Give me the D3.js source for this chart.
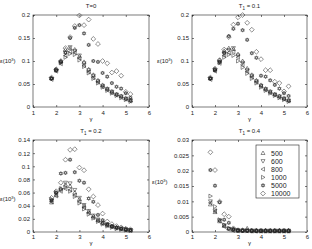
<!DOCTYPE html>
<html>
<head>
<meta charset="utf-8">
<script src="https://cdn.jsdelivr.net/npm/d3@7"></script>
<style>
  body { margin: 0; background: #fff; }
  svg { display: block; font-family: 'Liberation Sans', Arial, sans-serif; }
</style>
</head>
<body>
<svg id="chart" width="312" height="249"></svg>
<script>
// gamma values (x axis), shared by all panels
const gammas = [1.8, 2.0, 2.2, 2.4, 2.6, 2.8, 3.0, 3.2, 3.4, 3.6, 3.8, 4.0, 4.2, 4.4, 4.6, 4.8, 5.0, 5.2];
const seriesNames = ['500', '600', '800', '1000', '5000', '10000'];
const markerKinds = ['up', 'down', 'left', 'right', 'hex', 'diamond'];
const xTicks = [1, 2, 3, 4, 5, 6];

// T = 0
const t0_500   = [0.063, 0.082, 0.100, 0.125, 0.128, 0.125, 0.110, 0.098, 0.082, 0.070, 0.058, 0.048, 0.040, 0.034, 0.028, 0.024, 0.019, 0.015];
const t0_600   = [0.061, 0.079, 0.097, 0.118, 0.130, 0.122, 0.112, 0.095, 0.080, 0.068, 0.056, 0.046, 0.039, 0.033, 0.027, 0.023, 0.018, 0.014];
const t0_800   = [0.060, 0.078, 0.094, 0.112, 0.120, 0.118, 0.106, 0.090, 0.076, 0.064, 0.054, 0.044, 0.037, 0.031, 0.026, 0.021, 0.017, 0.013];
const t0_1000  = [0.062, 0.080, 0.096, 0.108, 0.116, 0.114, 0.102, 0.088, 0.074, 0.062, 0.052, 0.043, 0.036, 0.030, 0.025, 0.020, 0.016, 0.012];
const t0_5000  = [0.062, 0.080, 0.098, 0.118, 0.150, 0.172, 0.178, 0.160, 0.135, 0.100, 0.098, 0.074, 0.066, 0.052, 0.044, 0.040, 0.030, 0.020];
const t0_10000 = [0.064, 0.082, 0.100, 0.128, 0.152, 0.176, 0.199, 0.178, 0.190, 0.148, 0.137, 0.100, 0.095, 0.075, 0.078, 0.068, 0.033, 0.028];

// T1 = 0.1
const t1_500   = [0.063, 0.083, 0.102, 0.122, 0.128, 0.126, 0.115, 0.100, 0.084, 0.070, 0.058, 0.048, 0.040, 0.034, 0.028, 0.024, 0.019, 0.015];
const t1_600   = [0.061, 0.080, 0.098, 0.116, 0.124, 0.128, 0.112, 0.096, 0.080, 0.068, 0.056, 0.046, 0.039, 0.033, 0.027, 0.023, 0.018, 0.014];
const t1_800   = [0.060, 0.078, 0.095, 0.112, 0.118, 0.120, 0.108, 0.092, 0.077, 0.065, 0.054, 0.045, 0.037, 0.031, 0.026, 0.021, 0.017, 0.013];
const t1_1000  = [0.062, 0.081, 0.096, 0.108, 0.114, 0.112, 0.100, 0.086, 0.073, 0.062, 0.052, 0.043, 0.036, 0.030, 0.025, 0.020, 0.016, 0.012];
const t1_5000  = [0.062, 0.080, 0.098, 0.118, 0.154, 0.170, 0.181, 0.167, 0.146, 0.117, 0.107, 0.068, 0.066, 0.058, 0.048, 0.040, 0.030, 0.024];
const t1_10000 = [0.064, 0.083, 0.102, 0.125, 0.152, 0.179, 0.195, 0.200, 0.183, 0.168, 0.120, 0.104, 0.080, 0.080, 0.055, 0.052, 0.034, 0.045];

// T1 = 0.2
const t2_500   = [0.045, 0.056, 0.066, 0.072, 0.070, 0.060, 0.050, 0.040, 0.031, 0.024, 0.018, 0.014, 0.011, 0.009, 0.007, 0.005, 0.004, 0.003];
const t2_600   = [0.048, 0.058, 0.064, 0.075, 0.074, 0.064, 0.052, 0.041, 0.032, 0.025, 0.019, 0.014, 0.011, 0.008, 0.006, 0.005, 0.004, 0.003];
const t2_800   = [0.046, 0.055, 0.062, 0.066, 0.064, 0.056, 0.046, 0.037, 0.029, 0.022, 0.017, 0.013, 0.010, 0.008, 0.006, 0.005, 0.003, 0.002];
const t2_1000  = [0.050, 0.060, 0.066, 0.068, 0.062, 0.054, 0.044, 0.035, 0.027, 0.021, 0.016, 0.012, 0.009, 0.007, 0.005, 0.004, 0.003, 0.002];
const t2_5000  = [0.048, 0.060, 0.089, 0.090, 0.110, 0.091, 0.078, 0.075, 0.051, 0.046, 0.026, 0.018, 0.012, 0.009, 0.007, 0.005, 0.004, 0.003];
const t2_10000 = [0.052, 0.062, 0.075, 0.110, 0.125, 0.126, 0.098, 0.094, 0.065, 0.054, 0.041, 0.028, 0.016, 0.012, 0.009, 0.007, 0.005, 0.004];

// T1 = 0.4
const t4_500   = [0.0090, 0.0065, 0.0035, 0.0020, 0.0012, 0.0008, 0.0006, 0.0006, 0.0012, 0.0006, 0.0005, 0.0005, 0.0005, 0.0005, 0.0005, 0.0005, 0.0005, 0.0005];
const t4_600   = [0.0100, 0.0070, 0.0038, 0.0022, 0.0010, 0.0006, 0.0005, 0.0005, 0.0004, 0.0004, 0.0004, 0.0004, 0.0004, 0.0004, 0.0004, 0.0004, 0.0004, 0.0004];
const t4_800   = [0.0095, 0.0068, 0.0036, 0.0018, 0.0009, 0.0005, 0.0004, 0.0004, 0.0004, 0.0003, 0.0003, 0.0003, 0.0003, 0.0003, 0.0003, 0.0003, 0.0003, 0.0003];
const t4_1000  = [0.0117, 0.0083, 0.0040, 0.0023, 0.0012, 0.0007, 0.0005, 0.0004, 0.0004, 0.0004, 0.0004, 0.0003, 0.0003, 0.0003, 0.0003, 0.0003, 0.0003, 0.0003];
const t4_5000  = [0.0202, 0.0151, 0.0097, 0.0040, 0.0030, 0.0010, 0.0005, 0.0004, 0.0004, 0.0003, 0.0003, 0.0003, 0.0003, 0.0003, 0.0003, 0.0003, 0.0003, 0.0003];
const t4_10000 = [0.0260, 0.0202, 0.0099, 0.0058, 0.0050, 0.0012, 0.0006, 0.0005, 0.0005, 0.0004, 0.0004, 0.0004, 0.0004, 0.0004, 0.0004, 0.0004, 0.0004, 0.0004];

const yTicksTop = [0, 0.05, 0.1, 0.15, 0.2];
const yTicks02  = [0, 0.02, 0.04, 0.06, 0.08, 0.1, 0.12, 0.14];
const yTicks04  = [0, 0.005, 0.01, 0.015, 0.02, 0.025, 0.03];

const panels = [
  { title: ['T', null, '=0'], series: [t0_500, t0_600, t0_800, t0_1000, t0_5000, t0_10000],
    box: [33, 149, 15, 107], yTicks: yTicksTop, titleY: 8, tickY: 115, gammaY: 121, ylab: [0, 63] },
  { title: ['T', '1', ' = 0.1'], series: [t1_500, t1_600, t1_800, t1_1000, t1_5000, t1_10000],
    box: [192, 307, 15, 107], yTicks: yTicksTop, titleY: 8, tickY: 115, gammaY: 121, ylab: [157, 63] },
  { title: ['T', '1', ' = 0.2'], series: [t2_500, t2_600, t2_800, t2_1000, t2_5000, t2_10000],
    box: [33, 149, 140, 232], yTicks: yTicks02, titleY: 133, tickY: 239, gammaY: 245, ylab: [0, 201] },
  { title: ['T', '1', ' = 0.4'], series: [t4_500, t4_600, t4_800, t4_1000, t4_5000, t4_10000],
    box: [192, 307, 140, 232], yTicks: yTicks04, titleY: 133, tickY: 239, gammaY: 245, ylab: [152, 184], legend: true }
];

// marker outlines, r = half size in px
function markerPath(kind, r) {
  const p = d3.path();
  const poly = (pts) => { p.moveTo(pts[0][0], pts[0][1]); pts.slice(1).forEach(q => p.lineTo(q[0], q[1])); p.closePath(); };
  if (kind === 'up') poly([[0, -r], [r, r * 0.75], [-r, r * 0.75]]);
  else if (kind === 'down') poly([[0, r], [r, -r * 0.75], [-r, -r * 0.75]]);
  else if (kind === 'left') poly([[-r, 0], [r * 0.75, -r], [r * 0.75, r]]);
  else if (kind === 'right') poly([[r, 0], [-r * 0.75, -r], [-r * 0.75, r]]);
  else if (kind === 'diamond') poly([[0, -r * 1.2], [r * 1.2, 0], [0, r * 1.2], [-r * 1.2, 0]]);
  else if (kind === 'hex') {
    const a = d3.range(6).map(i => -Math.PI / 2 + i * Math.PI / 3);
    poly([0, 2, 4].map(i => [r * Math.cos(a[i]), r * Math.sin(a[i])]));
    poly([1, 3, 5].map(i => [r * Math.cos(a[i]), r * Math.sin(a[i])]));
  }
  return p.toString();
}

const svg = d3.select('#chart');
const fmt = d3.format('~g');
const ink = '#222';

panels.forEach(pn => {
  const [x0, x1, y0, y1] = pn.box;
  const x = d3.scaleLinear().domain([1, 6]).range([x0, x1]);
  const y = d3.scaleLinear().domain([0, d3.max(pn.yTicks)]).range([y1, y0]);
  const g = svg.append('g');

  g.append('rect').attr('x', x0).attr('y', y0).attr('width', x1 - x0).attr('height', y1 - y0)
    .attr('fill', 'none').attr('stroke', ink).attr('stroke-width', 0.6);

  const styleAxis = (sel, labels) => {
    sel.select('.domain').remove();
    sel.selectAll('line').attr('stroke', ink).attr('stroke-width', 0.6);
    sel.selectAll('text').attr('fill', ink).style('font-size', '6px');
    if (!labels) sel.selectAll('text').remove();
  };

  g.append('g').attr('transform', `translate(0,${y1})`)
    .call(d3.axisBottom(x).tickValues(xTicks).tickSize(-2).tickPadding(4).tickFormat(fmt))
    .call(s => styleAxis(s, true))
    .selectAll('text').attr('dy', null).attr('y', pn.tickY - y1);
  g.append('g').attr('transform', `translate(0,${y0})`)
    .call(d3.axisTop(x).tickValues(xTicks).tickSize(-2))
    .call(s => styleAxis(s, false));
  g.append('g').attr('transform', `translate(${x0},0)`)
    .call(d3.axisLeft(y).tickValues(pn.yTicks).tickSize(-2).tickPadding(3).tickFormat(fmt))
    .call(s => styleAxis(s, true));
  g.append('g').attr('transform', `translate(${x1},0)`)
    .call(d3.axisRight(y).tickValues(pn.yTicks).tickSize(-2))
    .call(s => styleAxis(s, false));

  // title
  const t = g.append('text').attr('x', (x0 + x1) / 2).attr('y', pn.titleY)
    .attr('text-anchor', 'middle').attr('fill', ink).style('font-size', '6px');
  t.append('tspan').text(pn.title[0]);
  if (pn.title[1]) t.append('tspan').attr('dy', 1.5).style('font-size', '4.5px').text(pn.title[1]);
  t.append('tspan').attr('dy', pn.title[1] ? -1.5 : 0).text(pn.title[2]);

  // axis labels
  g.append('text').attr('x', (x0 + x1) / 2).attr('y', pn.gammaY).attr('text-anchor', 'middle')
    .attr('fill', ink).style('font-size', '6px').text('γ');
  const yl = g.append('text').attr('x', pn.ylab[0]).attr('y', pn.ylab[1])
    .attr('fill', ink).style('font-size', '6px');
  yl.append('tspan').text('ε(10');
  yl.append('tspan').attr('dy', -2.5).style('font-size', '4px').text('3');
  yl.append('tspan').attr('dy', 2.5).text(')');

  // markers
  pn.series.forEach((vals, si) => {
    g.append('g').selectAll('path')
      .data(vals.map((v, i) => [gammas[i], v]))
      .join('path')
      .attr('transform', d => `translate(${x(d[0])},${y(d[1])})`)
      .attr('d', markerPath(markerKinds[si], 2))
      .attr('fill', 'none')
      .attr('stroke', ink)
      .attr('stroke-width', 0.5);
  });

  if (pn.legend) {
    const lg = g.append('g');
    lg.append('rect').attr('x', 256).attr('y', 145).attr('width', 43).attr('height', 53)
      .attr('fill', '#fff').attr('stroke', ink).attr('stroke-width', 0.6);
    const row = d3.scaleLinear().domain([0, 5]).range([153, 193.5]);
    seriesNames.forEach((name, i) => {
      lg.append('path').attr('transform', `translate(263,${row(i)})`)
        .attr('d', markerPath(markerKinds[i], 2))
        .attr('fill', 'none').attr('stroke', ink).attr('stroke-width', 0.5);
      lg.append('text').attr('x', 271).attr('y', row(i) + 2.6)
        .attr('fill', ink).style('font-size', '7px').text(name);
    });
  }
});
</script>
</body>
</html>
